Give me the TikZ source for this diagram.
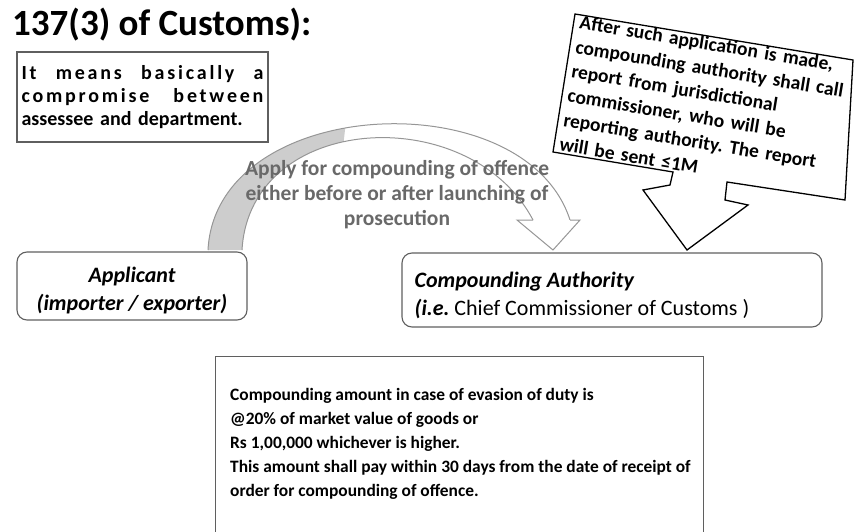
\documentclass[tikz,border=0pt]{standalone}
\usepackage{fontspec}
\setmainfont{Carlito}
\frenchspacing
\definecolor{framegray}{RGB}{95,95,95}
\definecolor{bandline}{RGB}{150,150,150}
\definecolor{bandfill}{RGB}{205,205,205}
\definecolor{labelgray}{RGB}{105,105,105}
\newcommand{\spreadline}[1]{\leavevmode{\addfontfeature{LetterSpace=14}\hbox to 242pt{#1}}}
\begin{document}
\begin{tikzpicture}[x=1pt,y=-1pt,
  plainbox/.style={draw=framegray, line width=1.1pt, inner sep=0pt},
  roundbox/.style={draw=framegray, line width=1.1pt, rounded corners=10pt},
  bandstroke/.style={draw=bandline, line width=1pt},
  calloutshape/.style={draw=black, line width=1.3pt, fill=white, line join=miter}]
\useasboundingbox (0,0) rectangle (854,532);

% heading
\node[anchor=base west, inner sep=0pt, font=\fontsize{37}{40}\selectfont\bfseries] (title) at (12,36) {137(3) of Customs):};

% definition box, first two lines spread over the full width
\node[plainbox, minimum width=251pt, minimum height=90pt, text width=242pt, align=left,
      font=\fontsize{20}{23}\selectfont\bfseries] (defn) at (142.5,97)
  {\spreadline{It\hfill means\hfill basically\hfill a}\\
   \spreadline{compromise\hfill between}\\
   assessee and department.};

% parties
\node[roundbox, minimum width=230pt, minimum height=68pt] (applicant) at (132,286) {};
\node[align=center, font=\fontsize{22}{28}\selectfont\bfseries\itshape] (applicanttext)
  at ([shift={(0,5)}]applicant.center) {Applicant\\(importer / exporter)};
\node[roundbox, minimum width=420pt, minimum height=74pt] (compauth) at (612,290) {};
\node[anchor=west, inner sep=0pt, align=left, font=\fontsize{22}{28}\selectfont] (compauthtext)
  at ([shift={(13,5)}]compauth.west)
  {\textbf{\textit{Compounding Authority}}\\\textbf{\textit{(i.e.}} Chief Commissioner of Customs )};

% curved block arrow from applicant to compounding authority
\coordinate (footL) at (208,250);
\coordinate (footR) at (242,250);
\coordinate (neckL) at (533,220);
\coordinate (neckR) at (570,220);
\coordinate (barbL) at (517,220);
\coordinate (barbR) at (580,220);
\coordinate (tip) at (553,250);
\begin{scope}
  \clip (0,0) -- (360,0) -- (330,260) -- (0,260) -- cycle;
  \fill[bandfill] (footL) .. controls (216,95) and (525,80) .. (neckR)
     -- (neckL) .. controls (470,100) and (250,112) .. (footR) -- cycle;
\end{scope}
\draw[bandstroke] (footL) .. controls (216,95) and (525,80) .. (neckR);
\draw[bandstroke] (footR) .. controls (250,112) and (470,100) .. (neckL);
\draw[bandstroke, fill=white, line join=miter] (neckL) -- (barbL) -- (tip) -- (barbR) -- (neckR);

\node[align=center, text=labelgray, font=\fontsize{21.5}{25}\selectfont\bfseries] (applylabel) at (397,195)
  {Apply for compounding of offence\\either before or after launching of\\prosecution};

% callout with pointer towards the authority
\coordinate (cTL) at (575,14);
\coordinate (cTR) at (853,60);
\coordinate (cBR) at (845,200);
\coordinate (cBL) at (553,152);
\coordinate (pTip) at (687,250);
\draw[calloutshape] (cTL) -- (cTR) -- (cBR) -- (727,182) -- (725,200) -- (748,205) -- (pTip)
   -- (643,190) -- (670,185) -- (673,172) -- (cBL) -- cycle;
\node[rotate=-9.4, anchor=north west, inner sep=0pt, text width=300pt, align=left,
      font=\fontsize{19.5}{24.7}\selectfont\bfseries] (note) at (581,15)
  {After such application is made,\\compounding authority shall call\\report from jurisdictional\\commissioner, who will be\\reporting authority. The report\\will be sent ≤1M};

% amount box, running past the lower edge
\node[plainbox, anchor=north west, minimum width=488pt, minimum height=190pt] (amount) at (215,356) {};
\node[anchor=north west, inner sep=0pt, align=left, font=\fontsize{17.4}{24}\selectfont\bfseries] (amounttext)
  at ([shift={(15,32)}]amount.north west)
  {Compounding amount in case of evasion of duty is\\@20\% of market value of goods or\\Rs 1,00,000 whichever is higher.\\This amount shall pay within 30 days from the date of receipt of\\order for compounding of offence.};
\end{tikzpicture}
\end{document}
